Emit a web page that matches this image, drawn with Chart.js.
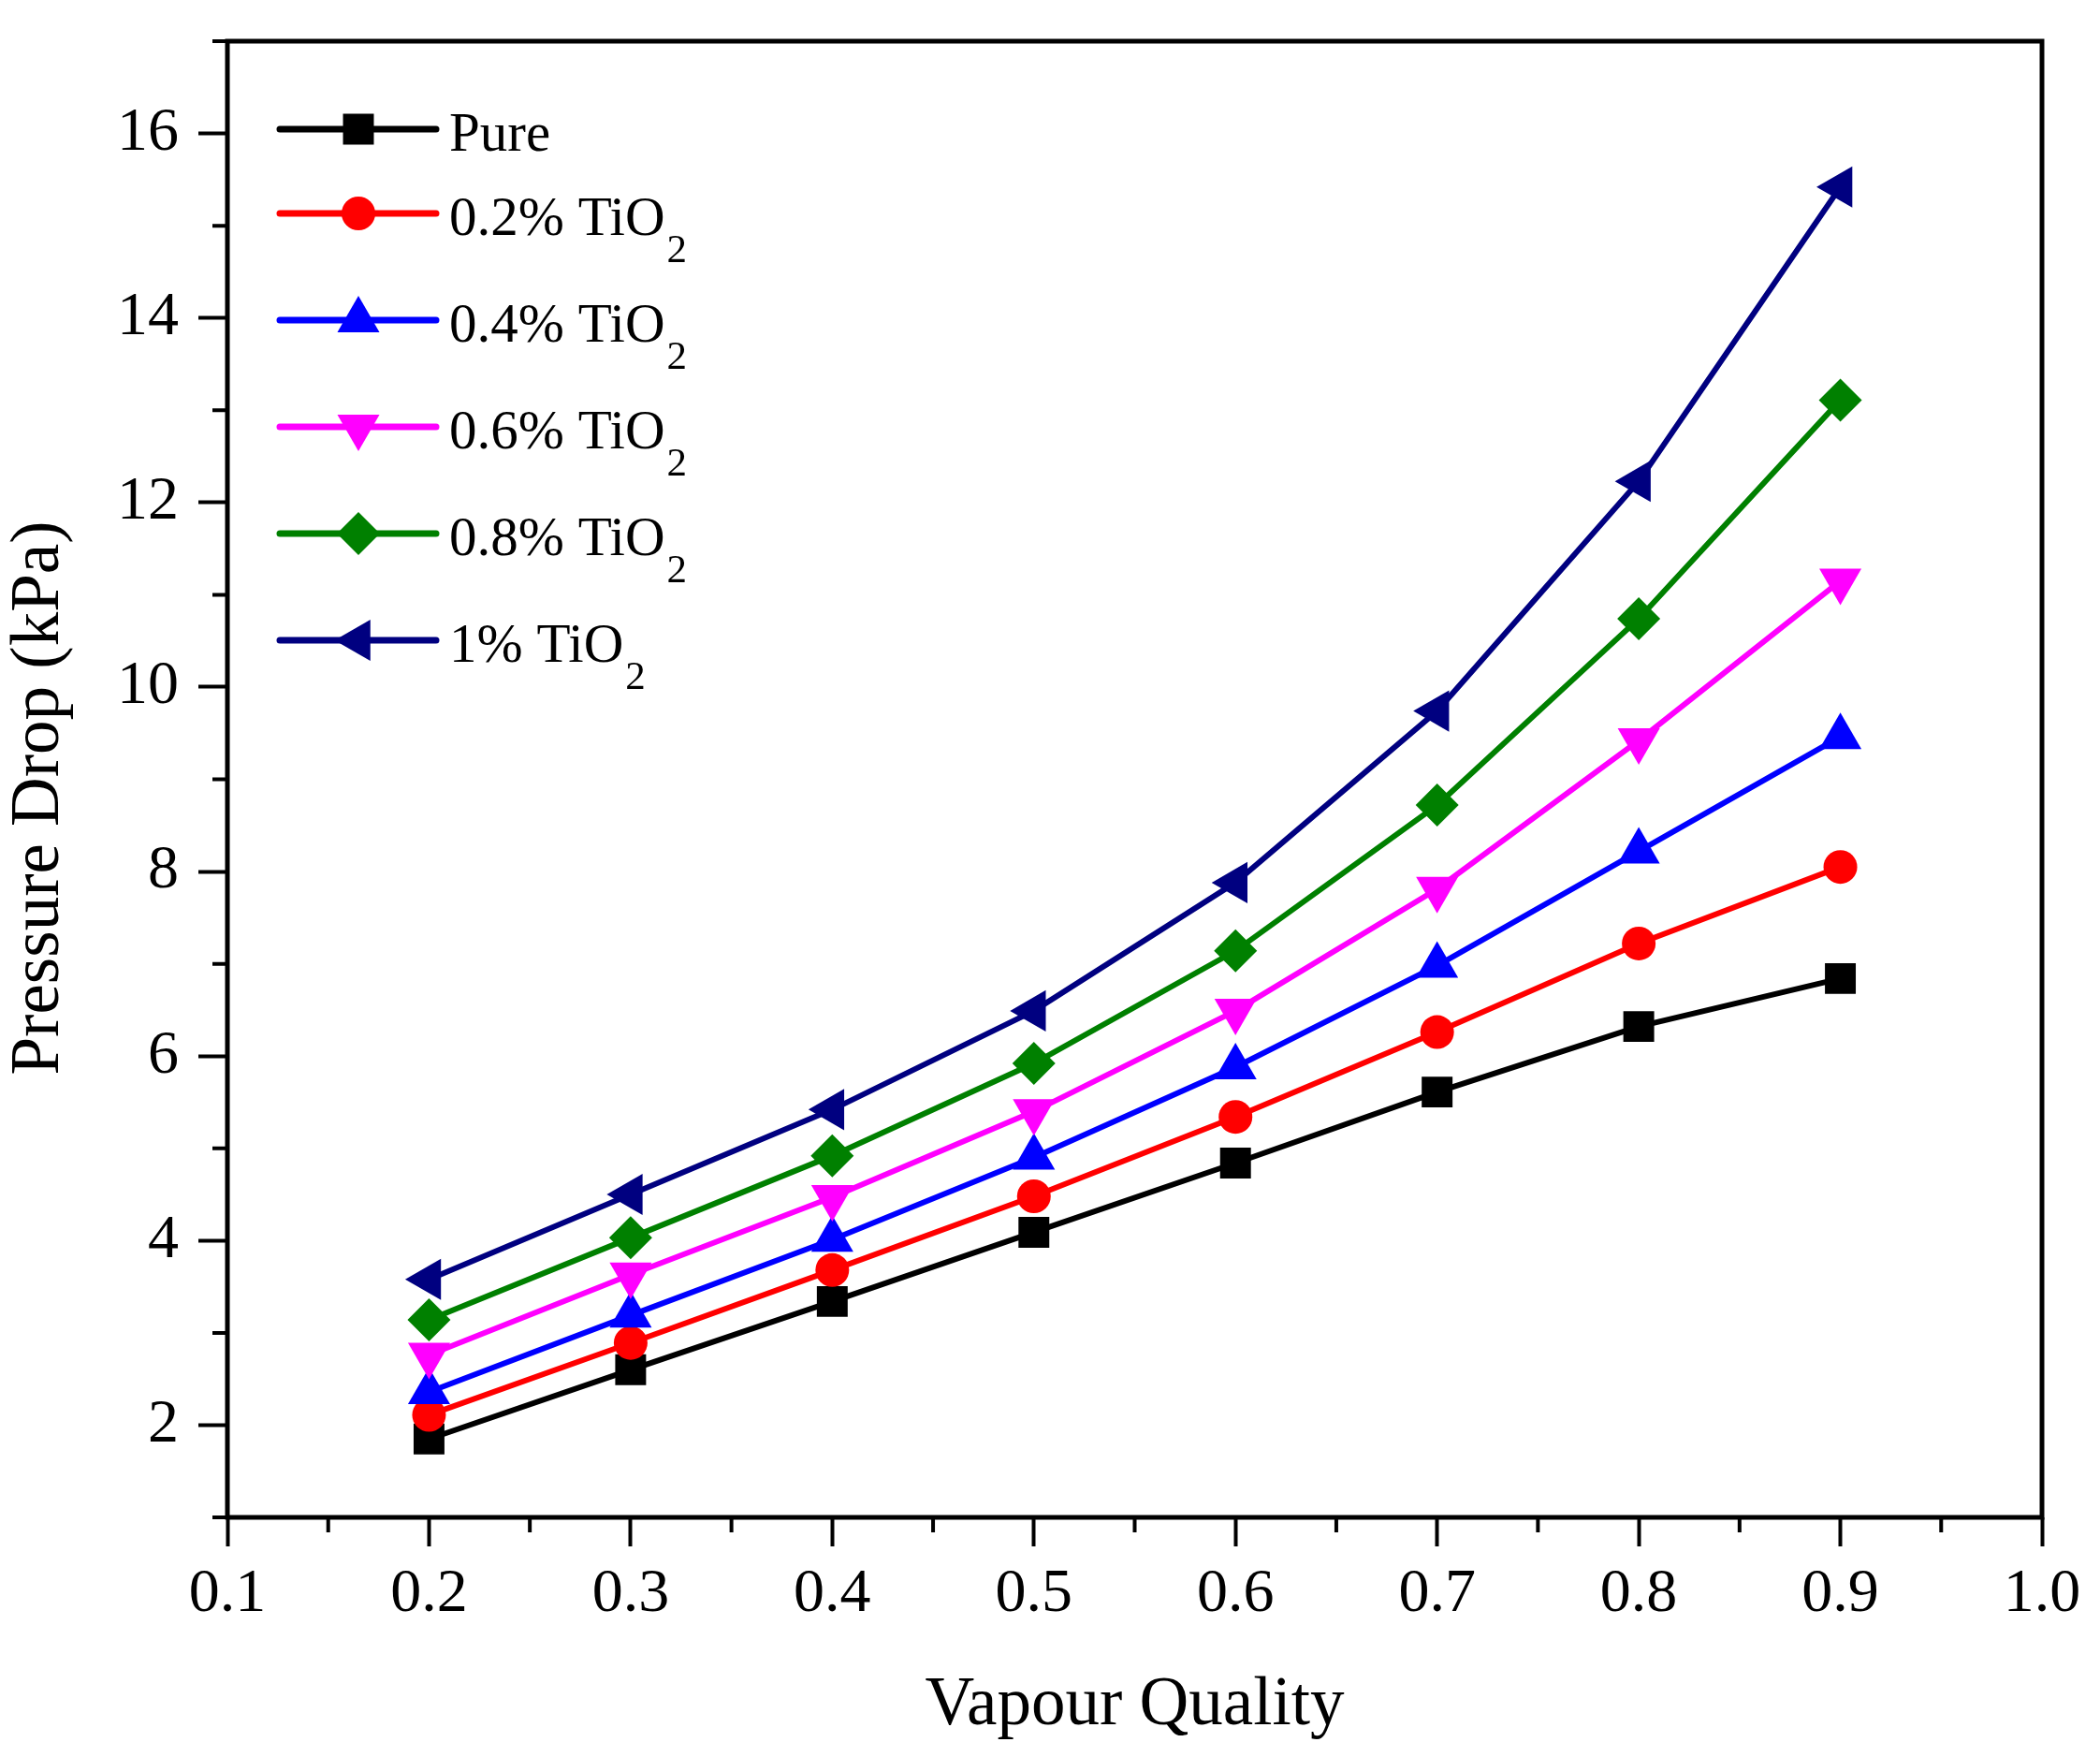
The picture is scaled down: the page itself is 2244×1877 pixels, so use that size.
<!DOCTYPE html>
<html>
<head>
<meta charset="utf-8">
<script src="https://cdn.jsdelivr.net/npm/chart.js@4.4.1/dist/chart.umd.min.js"></script>
<style>
  html, body { margin: 0; padding: 0; background: #fff; }
  #wrap { width: 2244px; height: 1877px; }
</style>
</head>
<body>
<div id="wrap"><canvas id="myChart" width="2244" height="1877"></canvas></div>
<script>
// data
const vapourQuality = [0.2, 0.3, 0.4, 0.5, 0.6, 0.7, 0.8, 0.9];
const pure    = [1.85, 2.60, 3.34, 4.09, 4.84, 5.61, 6.32, 6.84];
const tio2_02 = [2.11, 2.89, 3.68, 4.48, 5.34, 6.26, 7.22, 8.05];
const tio2_04 = [2.36, 3.19, 4.01, 4.90, 5.88, 6.98, 8.22, 9.46];
const tio2_06 = [2.76, 3.63, 4.47, 5.40, 6.49, 7.81, 9.42, 11.15];
const tio2_08 = [3.14, 4.03, 4.92, 5.92, 7.14, 8.72, 10.74, 13.11];
const tio2_10 = [3.58, 4.50, 5.42, 6.49, 7.88, 9.74, 12.23, 15.42];

const seriesLabels = ['Pure', '0.2% TiO\u2082', '0.4% TiO\u2082', '0.6% TiO\u2082', '0.8% TiO\u2082', '1% TiO\u2082'];
const xTicks = [0.1, 0.2, 0.3, 0.4, 0.5, 0.6, 0.7, 0.8, 0.9, 1.0];
const xMinor = [0.15, 0.25, 0.35, 0.45, 0.55, 0.65, 0.75, 0.85, 0.95];
const yTicks = [2, 4, 6, 8, 10, 12, 14, 16];
const yMinor = [1, 3, 5, 7, 9, 11, 13, 15, 17];
const xTitle = 'Vapour Quality';
const yTitle = 'Pressure Drop (kPa)';

const FONT = '"Liberation Serif", "Times New Roman", serif';

const styles = [
    { color: '#000000', pointStyle: 'rect', radius: 23.3, rotation: 0 },
    { color: '#ff0000', pointStyle: 'circle', radius: 18, rotation: 0 },
    { color: '#0000ff', pointStyle: 'triangle', radius: 26, rotation: 0 },
    { color: '#ff00ff', pointStyle: 'triangle', radius: 26, rotation: 180 },
    { color: '#008000', pointStyle: 'rectRot', radius: 23, rotation: 0 },
    { color: '#000080', pointStyle: 'triangle', radius: 25.5, rotation: -90 },
];

const allSeries = [pure, tio2_02, tio2_04, tio2_06, tio2_08, tio2_10];

const datasets = allSeries.map((vals, i) => ({
    label: seriesLabels[i],
    data: vals.map((v, j) => ({ x: vapourQuality[j], y: v })),
    borderColor: styles[i].color,
    backgroundColor: styles[i].color,
    borderWidth: 6,
    pointStyle: styles[i].pointStyle,
    pointRadius: styles[i].radius,
    pointRotation: styles[i].rotation,
    pointBorderWidth: 0,
    pointBackgroundColor: styles[i].color,
    tension: 0,
    order: allSeries.length - 1 - i,
}));

// frame, minor ticks, axis titles and legend
const decorations = {
    id: 'decorations',
    afterDraw(chart) {
        const { ctx, chartArea: a, scales } = chart;
        ctx.save();
        ctx.strokeStyle = '#000';
        ctx.lineWidth = 5;
        ctx.strokeRect(a.left, a.top, a.right - a.left, a.bottom - a.top);

        ctx.lineWidth = 4;
        ctx.beginPath();
        xMinor.forEach(v => {
            const px = scales.x.getPixelForValue(v);
            ctx.moveTo(px, a.bottom);
            ctx.lineTo(px, a.bottom + 16);
        });
        yMinor.forEach(v => {
            const py = scales.y.getPixelForValue(v);
            ctx.moveTo(a.left, py);
            ctx.lineTo(a.left - 16, py);
        });
        ctx.stroke();

        ctx.fillStyle = '#000';
        ctx.font = '73px ' + FONT;
        ctx.textAlign = 'center';
        ctx.textBaseline = 'alphabetic';
        ctx.fillText(xTitle, (a.left + a.right) / 2, a.bottom + 221);
        ctx.save();
        ctx.translate(62, (a.top + a.bottom) / 2 + 20);
        ctx.rotate(-Math.PI / 2);
        ctx.fillText(yTitle, 0, 0);
        ctx.restore();

        // legend
        const rows = [138, 228, 342, 456, 570, 684];
        ctx.textAlign = 'left';
        chart.data.datasets.forEach((ds, i) => {
            const y = rows[i];
            ctx.strokeStyle = ds.borderColor;
            ctx.lineWidth = 7;
            ctx.lineCap = 'round';
            ctx.beginPath();
            ctx.moveTo(299, y);
            ctx.lineTo(466, y);
            ctx.stroke();
            ctx.fillStyle = ds.backgroundColor;
            Chart.helpers.drawPoint(ctx, {
                pointStyle: ds.pointStyle,
                radius: ds.pointRadius,
                rotation: ds.pointRotation,
                borderWidth: 0,
            }, 383, y);

            ctx.fillStyle = '#000';
            let text = ds.label;
            let sub = '';
            if (text.endsWith('\u2082')) {
                text = text.slice(0, -1);
                sub = '2';
            }
            ctx.font = '59px ' + FONT;
            ctx.fillText(text, 480, y + 23);
            if (sub) {
                const w = ctx.measureText(text).width;
                ctx.font = '43px ' + FONT;
                ctx.fillText(sub, 480 + w + 2, y + 52);
            }
        });
        ctx.restore();
    }
};

const config = {
    type: 'line',
    data: { datasets: datasets },
    options: {
        responsive: false,
        animation: false,
        devicePixelRatio: 1,
        layout: { padding: { top: 44, right: 62, left: 0, bottom: 0 } },
        plugins: {
            legend: { display: false },
            tooltip: { enabled: false },
        },
        scales: {
            x: {
                type: 'linear',
                min: 0.1,
                max: 1.0,
                afterFit: (s) => { s.height = 256; s.paddingLeft = 0; s.paddingRight = 0; },
                afterBuildTicks: (s) => { s.ticks = xTicks.map(v => ({ value: v })); },
                border: { display: false },
                grid: {
                    drawOnChartArea: false,
                    drawTicks: true,
                    tickLength: 31,
                    tickWidth: 4,
                    tickColor: '#000',
                },
                ticks: {
                    color: '#000',
                    padding: 12,
                    maxRotation: 0,
                    font: { family: FONT, size: 66 },
                    callback: (v) => Number(v).toFixed(1),
                },
            },
            y: {
                type: 'linear',
                min: 1,
                max: 17,
                afterFit: (s) => { s.width = 243; s.paddingTop = 0; s.paddingBottom = 0; },
                afterBuildTicks: (s) => { s.ticks = yTicks.map(v => ({ value: v })); },
                border: { display: false },
                grid: {
                    drawOnChartArea: false,
                    drawTicks: true,
                    tickLength: 31,
                    tickWidth: 4,
                    tickColor: '#000',
                },
                ticks: {
                    color: '#000',
                    padding: 21,
                    font: { family: FONT, size: 66 },
                    callback: (v) => String(v),
                },
            },
        },
    },
    plugins: [decorations],
};

let myChart = new Chart(document.getElementById('myChart'), config);
</script>
</body>
</html>
